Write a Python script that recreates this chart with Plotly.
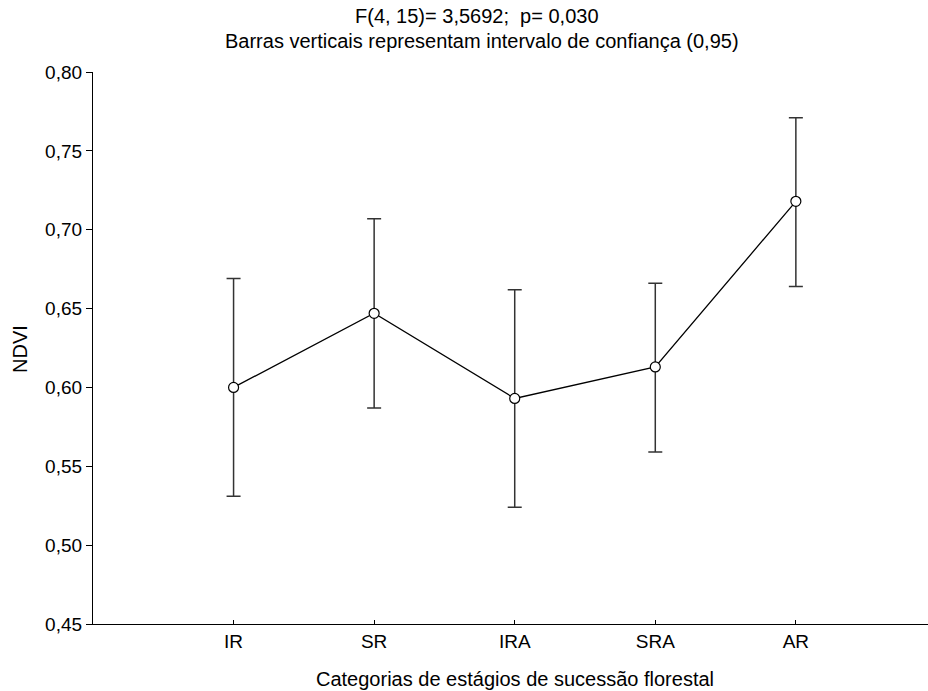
import plotly.graph_objects as go

categories = ["IR", "SR", "IRA", "SRA", "AR"]
means = [0.600, 0.647, 0.593, 0.613, 0.718]
upper = [0.669, 0.707, 0.662, 0.666, 0.771]
lower = [0.531, 0.587, 0.524, 0.559, 0.664]
yticks = [0.45, 0.50, 0.55, 0.60, 0.65, 0.70, 0.75, 0.80]

x_idx = list(range(len(categories)))
err_plus = [u - m for u, m in zip(upper, means)]
err_minus = [m - l for m, l in zip(means, lower)]

fig = go.Figure()
fig.add_trace(go.Scatter(
    x=x_idx, y=means, mode="lines+markers",
    line=dict(color="black", width=1.3),
    marker=dict(symbol="circle", size=10, color="white",
                line=dict(color="black", width=1.2)),
    error_y=dict(type="data", symmetric=False, array=err_plus,
                 arrayminus=err_minus, color="#333333", thickness=1.5, width=7),
    showlegend=False,
))

L, T, B, R = 93, 72, 67, 0
W, H = 928, 691
PW = W - L - R
PH = H - T - B

def px_x(sx):
    return (sx - L) / PW

def px_y(sy):
    return 1 + (T - sy) / PH

font_family = "Liberation Sans, Arial, sans-serif"
fig.update_layout(
    width=W, height=H,
    margin=dict(l=L, r=R, t=T, b=B),
    paper_bgcolor="white", plot_bgcolor="white",
    separators=",.",
    font=dict(family=font_family, size=20, color="black"),
    xaxis=dict(
        range=[-1, 4.94], tickmode="array", tickvals=x_idx, ticktext=categories,
        showline=True, linecolor="black", linewidth=1.3,
        ticks="inside", ticklen=4, tickcolor="black",
        showgrid=False, zeroline=False,
        tickfont=dict(size=19),
    ),
    yaxis=dict(
        range=[0.45, 0.80], tickmode="array", tickvals=yticks, tickformat=".2f",
        showline=True, linecolor="black", linewidth=1.3,
        ticks="outside", ticklen=6, tickcolor="black",
        showgrid=False, zeroline=False,
        tickfont=dict(size=19),
    ),
)
fig.add_annotation(text="F(4, 15)= 3,5692;  p= 0,030", xref="paper", yref="paper",
                   x=px_x(477), y=px_y(16), showarrow=False,
                   font=dict(size=20), yanchor="middle")
fig.add_annotation(text="Barras verticais representam intervalo de confiança (0,95)",
                   xref="paper", yref="paper", x=px_x(482), y=px_y(41),
                   showarrow=False, font=dict(size=20), yanchor="middle")
fig.add_annotation(text="Categorias de estágios de sucessão florestal",
                   xref="paper", yref="paper", x=px_x(515), y=px_y(679),
                   showarrow=False, font=dict(size=20), yanchor="middle")
fig.add_annotation(text="NDVI", xref="paper", yref="paper", x=px_x(20), y=px_y(349),
                   showarrow=False, font=dict(size=20), textangle=-90,
                   xanchor="center", yanchor="middle")

fig.write_html("out.html", config={"displayModeBar": False},
               post_script="document.body.style.margin='0px';")
